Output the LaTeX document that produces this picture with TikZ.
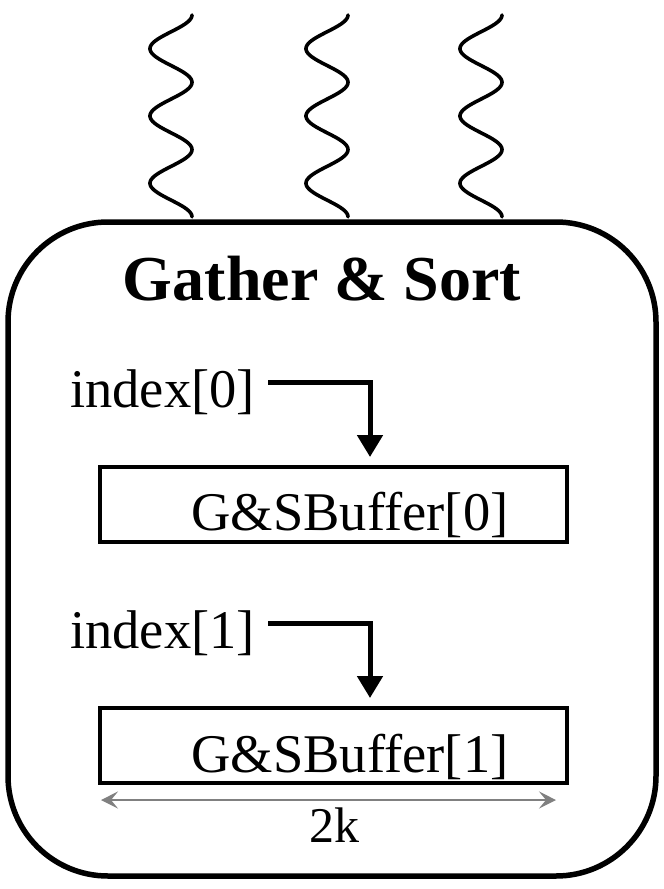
\documentclass[tikz,border=0pt]{standalone}
\usepackage{fontspec}
\setmainfont{Liberation Serif}
\usetikzlibrary{arrows.meta}
\begin{document}
\begin{tikzpicture}[x=1pt,y=-1pt,
  wave/.style={line width=3.6pt,line cap=round},
  outer/.style={line width=5.5pt,rounded corners=100pt},
  bufbox/.style={draw,line width=4pt,minimum width=467pt,minimum height=75pt,inner sep=0pt},
  bigtxt/.style={font=\fontsize{54.5}{60}\selectfont,inner sep=0pt},
  flow/.style={line width=5pt,-{Triangle[width=25pt,length=22pt]}},
  dim/.style={line width=1.5pt,draw=gray,fill=gray,{Stealth[length=17pt,width=17pt,inset=7pt]}-{Stealth[length=17pt,width=17pt,inset=7pt]}}]
\useasboundingbox (0,0) rectangle (664,889);
% wavy lines
\foreach \cx in {171,327,481}{
  \draw[wave] plot[domain=0:3,samples=160,smooth] ({\cx+21*cos(360*\x)},{15+67.3*\x});
}
% outer box
\draw[outer] (8,222) rectangle (656,876);
% title
\node[anchor=base,inner sep=0pt,font=\fontsize{64}{70}\selectfont\bfseries] (title) at (322,300) {Gather \& Sort};
% buffers
\node[bufbox] (buf0) at (333.5,504.5) {};
\node[bigtxt,anchor=base] (buf0t) at (350,530) {G\&SBuffer[0]};
\node[bufbox] (buf1) at (333.5,745.5) {};
\node[bigtxt,anchor=base] (buf1t) at (350,772) {G\&SBuffer[1]};
% index labels
\node[bigtxt,anchor=base west] (idx0) at (70,407) {index[0]};
\node[bigtxt,anchor=base west] (idx1) at (70,648) {index[1]};
\coordinate (s0) at (268,382);
\coordinate (e0) at (370,457);
\coordinate (s1) at (268,623);
\coordinate (e1) at (370,698);
\draw[flow] (s0) -| (e0);
\draw[flow] (s1) -| (e1);
% dimension
\coordinate (d0) at (101,800);
\coordinate (d1) at (556,800);
\draw[dim] (d0) -- (d1);
\node[anchor=base,inner sep=0pt,font=\fontsize{50}{56}\selectfont] (dimt) at (334,842) {2k};
\end{tikzpicture}
\end{document}
